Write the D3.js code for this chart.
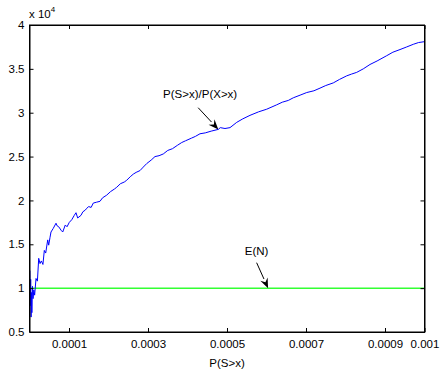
<!DOCTYPE html>
<html>
<head>
<meta charset="utf-8">
<script src="https://cdn.jsdelivr.net/npm/d3@7"></script>
<style>
  html, body { margin: 0; padding: 0; background: #fff; }
  svg { display: block; font-family: "Liberation Sans", Arial, Helvetica, sans-serif; }
</style>
</head>
<body>
<svg id="chart" width="441" height="376"></svg>
<script>
// P(S>x) values (x axis)
const probS = [
  0.0000010, 0.0000020, 0.0000030, 0.0000040, 0.0000050, 0.0000060, 0.0000075, 0.0000090,
  0.0000110, 0.0000130, 0.0000165, 0.0000200, 0.0000233, 0.0000266, 0.0000300, 0.0000340,
  0.0000375, 0.0000410, 0.0000461, 0.0000486, 0.0000520, 0.0000544, 0.0000600, 0.0000671,
  0.0000700, 0.0000739, 0.0000800, 0.0000841, 0.0000906, 0.0000950, 0.0001008, 0.0001070,
  0.0001134, 0.0001177, 0.0001220, 0.0001304, 0.0001350, 0.0001413, 0.0001448, 0.0001500,
  0.0001560, 0.0001615, 0.0001700, 0.0001785, 0.0001850, 0.0001954, 0.0002050, 0.0002150,
  0.0002208, 0.0002300, 0.0002400, 0.0002461, 0.0002550, 0.0002628, 0.0002700, 0.0002797,
  0.0002880, 0.0002967, 0.0003080, 0.0003177, 0.0003280, 0.0003387, 0.0003500, 0.0003620,
  0.0003750, 0.0003853, 0.0003950, 0.0004100, 0.0004200, 0.0004316, 0.0004450, 0.0004600,
  0.0004780, 0.0004830, 0.0004949, 0.0005076, 0.0005246, 0.0005400, 0.0005582, 0.0005800,
  0.0006005, 0.0006258, 0.0006400, 0.0006552, 0.0006678, 0.0006850, 0.0007018, 0.0007200,
  0.0007354, 0.0007500, 0.0007691, 0.0007850, 0.0008030, 0.0008150, 0.0008284, 0.0008450,
  0.0008620, 0.0008800, 0.0009043, 0.0009200, 0.0009380, 0.0009550, 0.0009716, 0.0009850,
  0.0010000
];
// P(S>x)/P(X>x) in units of 1e4
const ratio = [
  1.20, 0.80, 1.10, 0.67, 0.95, 0.72, 1.02, 0.88,
  0.98, 0.92, 1.11, 1.08, 1.34, 1.28, 1.31, 1.27,
  1.43, 1.40, 1.55, 1.49, 1.58, 1.64, 1.68, 1.74,
  1.71, 1.70, 1.66, 1.64, 1.72, 1.70, 1.75, 1.78,
  1.83, 1.86, 1.80, 1.83, 1.87, 1.89, 1.91, 1.93,
  1.92, 1.97, 1.98, 1.99, 2.03, 2.06, 2.10, 2.13,
  2.15, 2.19, 2.21, 2.23, 2.27, 2.30, 2.32, 2.34,
  2.38, 2.42, 2.46, 2.50, 2.51, 2.53, 2.57, 2.59,
  2.63, 2.66, 2.68, 2.71, 2.73, 2.76, 2.77, 2.79,
  2.81, 2.83, 2.82, 2.83, 2.89, 2.93, 2.97, 3.01,
  3.04, 3.09, 3.12, 3.14, 3.17, 3.20, 3.23, 3.25,
  3.28, 3.31, 3.34, 3.38, 3.42, 3.44, 3.46, 3.50,
  3.55, 3.59, 3.65, 3.69, 3.72, 3.75, 3.78, 3.80,
  3.81
];
// E(N) constant level (units of 1e4)
const expectedN = 1.0;

const xTicks = [0.0001, 0.0003, 0.0005, 0.0007, 0.0009, 0.001];
const xTickLabels = ["0.0001", "0.0003", "0.0005", "0.0007", "0.0009", "0.001"];
const yTicks = [0.5, 1, 1.5, 2, 2.5, 3, 3.5, 4];
const yTickLabels = ["0.5", "1", "1.5", "2", "2.5", "3", "3.5", "4"];

const svg = d3.select("#chart");
const L = 29.5, R = 424.5, T = 25, B = 332;

const x = d3.scaleLinear().domain([0, 0.001]).range([L, R]);
const y = d3.scaleLinear().domain([0.5, 4]).range([B, T]);

const fontSize = 11.5;

// Green E(N) line
svg.append("line")
  .attr("x1", x(0)).attr("x2", x(0.001))
  .attr("y1", y(expectedN)).attr("y2", y(expectedN))
  .attr("stroke", "#33ff33").attr("stroke-width", 1.5);

// Blue ratio curve
const data = probS.map((p, i) => [p, ratio[i]]);
svg.append("path")
  .datum(data)
  .attr("fill", "none")
  .attr("stroke", "#0000ff")
  .attr("stroke-width", 1)
  .attr("stroke-linejoin", "round")
  .attr("d", d3.line().x(d => x(d[0])).y(d => y(d[1])));

// Axes (MATLAB style box, inward ticks)
const tickLen = 4;
const xFmt = (d) => xTickLabels[xTicks.indexOf(d)];
const yFmt = (d) => yTickLabels[yTicks.indexOf(d)];

const gx = svg.append("g").attr("transform", `translate(0,${B})`)
  .call(d3.axisBottom(x).tickValues(xTicks).tickFormat(xFmt).tickSizeInner(-tickLen).tickSizeOuter(0).tickPadding(8));
const gxt = svg.append("g").attr("transform", `translate(0,${T})`)
  .call(d3.axisTop(x).tickValues(xTicks).tickFormat("").tickSizeInner(-tickLen).tickSizeOuter(0));
const gy = svg.append("g").attr("transform", `translate(${L},0)`)
  .call(d3.axisLeft(y).tickValues(yTicks).tickFormat(yFmt).tickSizeInner(-tickLen).tickSizeOuter(0).tickPadding(5));
const gyr = svg.append("g").attr("transform", `translate(${R},0)`)
  .call(d3.axisRight(y).tickValues(yTicks).tickFormat("").tickSizeInner(-tickLen).tickSizeOuter(0));

[gx, gxt, gy, gyr].forEach(g => {
  g.selectAll(".domain").attr("stroke", "#000").attr("stroke-width", 1);
  g.selectAll(".tick line").attr("stroke", "#000").attr("stroke-width", 1);
  g.selectAll("text").attr("fill", "#000").attr("font-size", fontSize)
    .attr("font-family", '"Liberation Sans", Arial, sans-serif');
});

// Box border
svg.append("rect")
  .attr("x", L).attr("y", T).attr("width", R - L).attr("height", B - T)
  .attr("fill", "none").attr("stroke", "#000").attr("stroke-width", 1);

// x label
svg.append("text")
  .attr("x", (L + R) / 2).attr("y", 367)
  .attr("text-anchor", "middle").attr("font-size", fontSize)
  .text("P(S>x)");

// exponent label
const ex = svg.append("text").attr("x", 29).attr("y", 18).attr("font-size", fontSize);
ex.append("tspan").text("x 10");
ex.append("tspan").attr("dy", -6).attr("font-size", 8).text("4");

// Annotations with arrows
function arrow(x1, y1, x2, y2) {
  const ang = Math.atan2(y2 - y1, x2 - x1);
  const hl = 10, hw = 4;
  const bx = x2 - hl * Math.cos(ang), by = y2 - hl * Math.sin(ang);
  svg.append("line").attr("x1", x1).attr("y1", y1).attr("x2", bx).attr("y2", by)
    .attr("stroke", "#000").attr("stroke-width", 1);
  const px = -Math.sin(ang) * hw, py = Math.cos(ang) * hw;
  svg.append("path")
    .attr("d", `M${x2},${y2}L${bx + px},${by + py}L${bx + 0.35 * hl * Math.cos(ang)},${by + 0.35 * hl * Math.sin(ang)}L${bx - px},${by - py}Z`)
    .attr("fill", "#000");
}

svg.append("text").attr("x", x(0.000432)).attr("y", y(3.17))
  .attr("text-anchor", "middle").attr("font-size", fontSize).text("P(S>x)/P(X>x)");
arrow(x(0.000427), y(3.057), x(0.000478), y(2.81));

svg.append("text").attr("x", x(0.000575)).attr("y", y(1.375))
  .attr("text-anchor", "middle").attr("font-size", fontSize).text("E(N)");
arrow(x(0.000575), y(1.29), x(0.000604), y(1.0));
</script>
</body>
</html>
